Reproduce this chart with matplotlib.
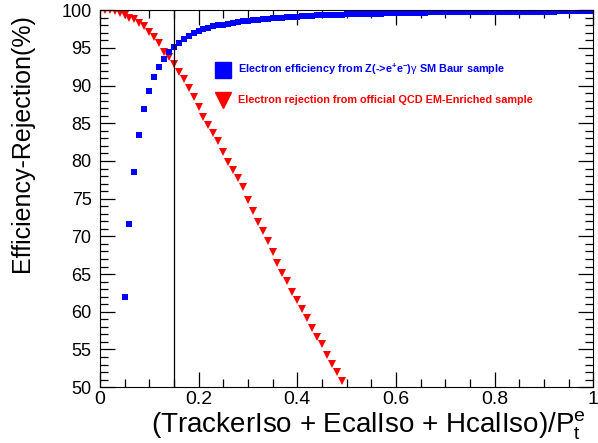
import matplotlib
matplotlib.use("Agg")
import matplotlib.pyplot as plt
from matplotlib.ticker import MultipleLocator

plt.rcParams['font.family'] = ['Liberation Sans', 'DejaVu Sans']
plt.rcParams['mathtext.fontset'] = 'custom'
plt.rcParams['mathtext.rm'] = 'Liberation Sans'
plt.rcParams['mathtext.it'] = 'Liberation Sans'
plt.rcParams['mathtext.bf'] = 'Liberation Sans:bold'

# cut value on the isolation variable
cut_x = 0.15

# electron efficiency (Z->ee gamma, Baur sample)
eff_x = [0.05, 0.06, 0.07, 0.08, 0.09, 0.10, 0.11, 0.12, 0.13, 0.14,
         0.15, 0.16, 0.17, 0.18, 0.19, 0.20, 0.21, 0.22, 0.23, 0.24,
         0.25, 0.26, 0.27, 0.28, 0.29, 0.30, 0.31, 0.32, 0.33, 0.34,
         0.35, 0.36, 0.37, 0.38, 0.39, 0.40, 0.41, 0.42, 0.43, 0.44,
         0.45, 0.46, 0.47, 0.48, 0.49, 0.50, 0.51, 0.52, 0.53, 0.54,
         0.55, 0.56, 0.57, 0.58, 0.59, 0.60, 0.61, 0.62, 0.63, 0.64,
         0.65, 0.66, 0.67, 0.68, 0.69, 0.70, 0.71, 0.72, 0.73, 0.74,
         0.75, 0.76, 0.77, 0.78, 0.79, 0.80, 0.81, 0.82, 0.83, 0.84,
         0.85, 0.86, 0.87, 0.88, 0.89, 0.90, 0.91, 0.92, 0.93, 0.94,
         0.95, 0.96, 0.97, 0.98, 0.99, 1.00]
eff_y = [62.0, 71.7, 78.6, 83.4, 86.9, 89.3, 91.2, 92.4, 93.5, 94.5,
         95.1, 95.7, 96.2, 96.6, 97.0, 97.3, 97.5, 97.7, 97.9, 98.0,
         98.1, 98.2, 98.3, 98.4, 98.5, 98.6, 98.65, 98.7, 98.8, 98.85,
         98.9, 98.95, 99.0, 99.05, 99.1, 99.15, 99.2, 99.2, 99.25, 99.3,
         99.3, 99.35, 99.35, 99.4, 99.4, 99.45, 99.45, 99.5, 99.5, 99.5,
         99.55, 99.55, 99.55, 99.6, 99.6, 99.6, 99.6, 99.6, 99.65, 99.65,
         99.65, 99.65, 99.7, 99.7, 99.7, 99.7, 99.7, 99.72, 99.72, 99.74,
         99.75, 99.76, 99.77, 99.77, 99.77, 99.77, 99.78, 99.78, 99.78, 99.78,
         99.78, 99.78, 99.79, 99.79, 99.79, 99.8, 99.8, 99.8, 99.87, 99.87,
         99.87, 99.87, 99.87, 99.88, 99.88, 99.88]

# QCD EM-enriched rejection
rej_x = [0.00, 0.01, 0.02, 0.03, 0.04, 0.05, 0.06, 0.07, 0.08, 0.09,
         0.10, 0.11, 0.12, 0.13, 0.14, 0.15, 0.16, 0.17, 0.18, 0.19,
         0.20, 0.21, 0.22, 0.23, 0.24, 0.25, 0.26, 0.27, 0.28, 0.29,
         0.30, 0.31, 0.32, 0.33, 0.34, 0.35, 0.36, 0.37, 0.38, 0.39,
         0.40, 0.41, 0.42, 0.43, 0.44, 0.45, 0.46, 0.47, 0.48, 0.49]
rej_y = [100.0, 100.0, 100.0, 99.9, 99.6, 99.3, 99.0, 98.8, 98.3, 97.9,
         97.1, 96.4, 95.6, 94.5, 93.8, 92.8, 91.8, 90.9, 89.7, 88.5,
         87.2, 85.8, 84.8, 83.7, 82.6, 81.2, 79.9, 78.8, 77.7, 76.5,
         74.8, 73.4, 71.9, 70.7, 69.4, 67.9, 66.5, 65.2, 64.1, 62.6,
         61.5, 60.4, 59.2, 57.9, 56.7, 55.7, 54.3, 53.1, 52.0, 50.8]

fig = plt.figure(figsize=(5.98, 4.43), dpi=100)
ax = fig.add_axes([0.167, 0.126, 0.825, 0.851])

ax.plot(rej_x, rej_y, linestyle='none', marker='v', markersize=5.5,
        color='#ff0000', markeredgewidth=0, clip_on=True)
ax.plot(eff_x, eff_y, linestyle='none', marker='s', markersize=5,
        color='#0000ff', markeredgewidth=0, clip_on=True)
ax.axvline(cut_x, color='black', linewidth=0.9)

ax.set_xlim(0, 1)
ax.set_ylim(50, 100)
ax.xaxis.set_major_locator(MultipleLocator(0.2))
ax.xaxis.set_minor_locator(MultipleLocator(0.05))
ax.yaxis.set_major_locator(MultipleLocator(5))
ax.yaxis.set_minor_locator(MultipleLocator(1))
ax.xaxis.set_major_formatter(plt.FuncFormatter(lambda v, p: '%g' % v))
ax.tick_params(which='both', direction='in', top=True, right=True, width=0.9)
ax.tick_params(which='major', length=11)
ax.tick_params(which='minor', length=6)
ax.tick_params(axis='x', labelsize=14, pad=3)
ax.tick_params(axis='y', labelsize=13, pad=6)

ax.set_xlabel(r'(TrackerIso + EcalIso + HcalIso)/P$^{e}_{t}$', fontsize=20,
              ha='right', x=0.985, labelpad=1)
ax.set_ylabel('Efficiency-Rejection(%)', fontsize=18, ha='right', y=0.99,
              labelpad=20)

# legend drawn in the ROOT style: markers and bold coloured text
ax.plot([0.25], [92.1], marker='s', markersize=11, color='#0000ff',
        linestyle='none', clip_on=False)
ax.text(0.28, 92.1, r'Electron efficiency from Z(->e$^{\mathbf{+}}$e$^{\mathbf{-}}$)$\gamma$ SM Baur sample',
        color='#0000ff', fontsize=7.8, fontweight='bold', va='center')
ax.plot([0.25], [88.1], marker='v', markersize=12, color='#ff0000',
        linestyle='none', clip_on=False)
ax.text(0.28, 88.1, 'Electron rejection from official QCD EM-Enriched sample',
        color='#ff0000', fontsize=7.8, fontweight='bold', va='center')

fig.savefig('out.png', dpi=100)
